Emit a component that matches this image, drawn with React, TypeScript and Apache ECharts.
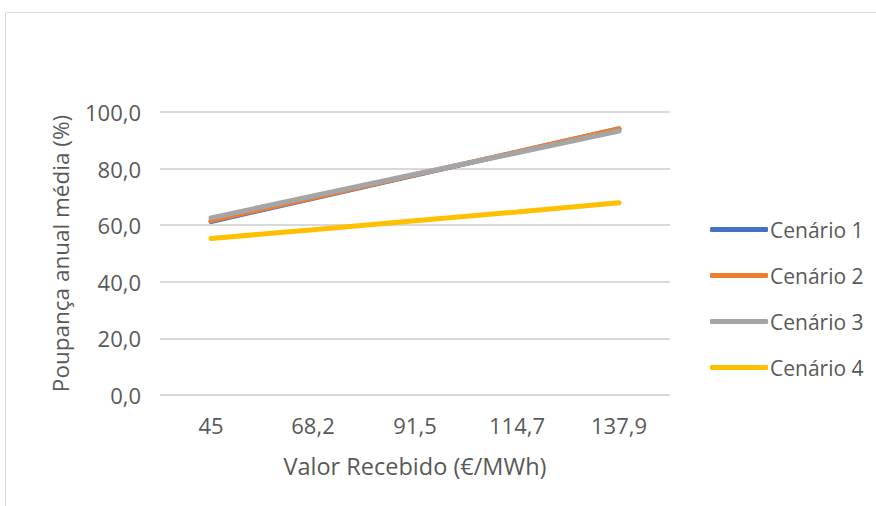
import React, { useEffect, useRef } from "react";
import * as echarts from "echarts";

const categories = ["45", "68,2", "91,5", "114,7", "137,9"];
const seriesNames = ["Cenário 1", "Cenário 2", "Cenário 3", "Cenário 4"];
const cenario1 = [61.3, 69.5, 77.7, 85.8, 94.0];
const cenario2 = [61.6, 69.7, 77.8, 85.9, 94.1];
const cenario3 = [62.6, 70.3, 78.0, 85.6, 93.3];
const cenario4 = [55.3, 58.4, 61.6, 64.7, 67.9];
const colors = ["#4472C4", "#ED7D31", "#A5A5A5", "#FFC000"];
const yTitle = "Poupança anual média (%)";
const xTitle = "Valor Recebido (€/MWh)";

const FONT = "'Open Sans', sans-serif";
const TXT = "#595959";

export default function App() {
  const ref = useRef<HTMLDivElement>(null);
  useEffect(() => {
    document.body.style.margin = "0";
    const chart = echarts.init(ref.current!, null, { renderer: "svg" });
    const data = [cenario1, cenario2, cenario3, cenario4];
    chart.setOption({
      animation: false,
      backgroundColor: "#ffffff",
      textStyle: { fontFamily: FONT },
      graphic: [
        {
          type: "rect",
          shape: { x: 5.5, y: 12.5, width: 900, height: 520 },
          style: { fill: "none", stroke: "#d9d9d9", lineWidth: 1 },
          silent: true,
        },
      ],
      grid: { left: 160, right: 206, top: 112, bottom: 111 },
      legend: {
        orient: "vertical",
        left: 705,
        top: 214,
        itemWidth: 58,
        itemHeight: 5,
        itemGap: 25,
        icon: "roundRect",
        textStyle: { color: TXT, fontSize: 21, fontFamily: FONT, padding: [0, 0, 0, -3] },
        data: seriesNames,
      },
      xAxis: {
        type: "category",
        data: categories,
        boundaryGap: true,
        axisLine: { show: false },
        axisTick: { show: false },
        axisLabel: { color: TXT, fontSize: 22, margin: 19, fontFamily: FONT },
        name: xTitle,
        nameLocation: "middle",
        nameGap: 59,
        nameTextStyle: { color: TXT, fontSize: 23.5, fontFamily: FONT },
      },
      yAxis: {
        type: "value",
        min: 0,
        max: 100,
        interval: 20,
        axisLine: { show: false },
        axisTick: { show: false },
        splitLine: { lineStyle: { color: "#d9d9d9", width: 2 } },
        axisLabel: {
          color: TXT,
          fontSize: 22,
          margin: 19,
          fontFamily: FONT,
          formatter: (v: number) => v.toFixed(1).replace(".", ","),
        },
        name: yTitle,
        nameLocation: "middle",
        nameGap: 88,
        nameRotate: 90,
        nameTextStyle: { color: TXT, fontSize: 22.5, fontFamily: FONT },
      },
      series: seriesNames.map((n, i) => ({
        name: n,
        type: "line",
        data: data[i],
        symbol: "none",
        showSymbol: false,
        color: colors[i],
        lineStyle: { width: 5, color: colors[i], cap: "round" },
        z: 2 + i,
      })),
    });
    return () => chart.dispose();
  }, []);
  return <div ref={ref} style={{ width: 876, height: 506 }} />;
}
